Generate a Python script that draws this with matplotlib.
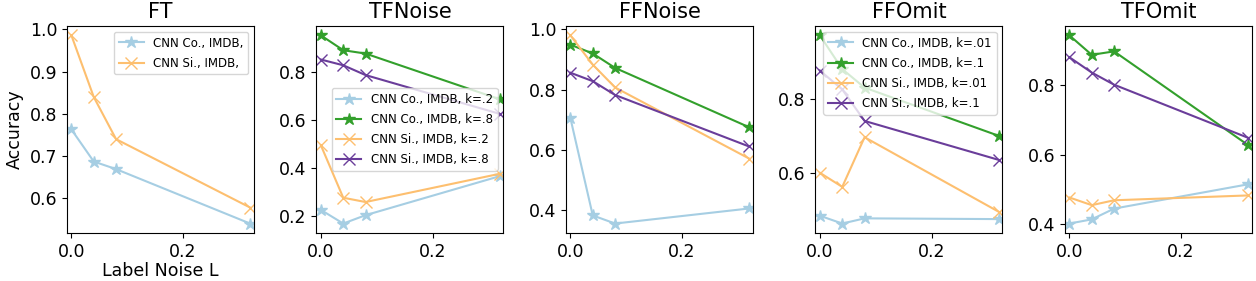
import numpy as np
import matplotlib
matplotlib.use("Agg")
import matplotlib.pyplot as plt

# label noise levels (x axis)
noise = [0.0, 0.04, 0.08, 0.32]

titles = ["FT", "TFNoise", "FFNoise", "FFOmit", "TFOmit"]

# FT
ft_co = [0.763, 0.687, 0.669, 0.540]
ft_si = [0.986, 0.840, 0.740, 0.578]

# TFNoise
tfn_co_lo = [0.225, 0.168, 0.203, 0.366]
tfn_co_hi = [0.955, 0.893, 0.879, 0.688]
tfn_si_lo = [0.495, 0.276, 0.258, 0.376]
tfn_si_hi = [0.854, 0.830, 0.789, 0.627]

# FFNoise
ffn_co_lo = [0.705, 0.382, 0.355, 0.405]
ffn_co_hi = [0.949, 0.920, 0.872, 0.675]
ffn_si_lo = [0.980, 0.883, 0.807, 0.571]
ffn_si_hi = [0.856, 0.828, 0.782, 0.611]

# FFOmit
ffo_co_lo = [0.484, 0.463, 0.477, 0.475]
ffo_co_hi = [0.971, 0.880, 0.830, 0.700]
ffo_si_lo = [0.600, 0.562, 0.696, 0.495]
ffo_si_hi = [0.876, 0.825, 0.740, 0.635]

# TFOmit
tfo_co_lo = [0.402, 0.414, 0.445, 0.515]
tfo_co_hi = [0.944, 0.888, 0.898, 0.628]
tfo_si_lo = [0.477, 0.455, 0.469, 0.483]
tfo_si_hi = [0.881, 0.837, 0.802, 0.649]

c_blue = '#a6cee3'
c_green = '#33a02c'
c_orange = '#fdbf6f'
c_purple = '#6a3d9a'

fig, axs = plt.subplots(1, 5, figsize=(12.56, 2.81), dpi=100)
plt.subplots_adjust(left=0.0533, right=0.9968, top=0.9075, bottom=0.171, wspace=0.334)

lw = 1.5
ms = 9
fs = 12.5
leg_kw = dict(fontsize=8.5, handlelength=2.1, labelspacing=0.6)

def draw(ax, series):
    for y, color, marker, label in series:
        ax.plot(noise, y, color=color, marker=marker, markersize=ms, linewidth=lw, label=label)

draw(axs[0], [(ft_co, c_blue, '*', 'CNN Co., IMDB,'),
              (ft_si, c_orange, 'x', 'CNN Si., IMDB,')])
draw(axs[1], [(tfn_co_lo, c_blue, '*', 'CNN Co., IMDB, k=.2'),
              (tfn_co_hi, c_green, '*', 'CNN Co., IMDB, k=.8'),
              (tfn_si_lo, c_orange, 'x', 'CNN Si., IMDB, k=.2'),
              (tfn_si_hi, c_purple, 'x', 'CNN Si., IMDB, k=.8')])
draw(axs[2], [(ffn_co_lo, c_blue, '*', None),
              (ffn_co_hi, c_green, '*', None),
              (ffn_si_lo, c_orange, 'x', None),
              (ffn_si_hi, c_purple, 'x', None)])
draw(axs[3], [(ffo_co_lo, c_blue, '*', 'CNN Co., IMDB, k=.01'),
              (ffo_co_hi, c_green, '*', 'CNN Co., IMDB, k=.1'),
              (ffo_si_lo, c_orange, 'x', 'CNN Si., IMDB, k=.01'),
              (ffo_si_hi, c_purple, 'x', 'CNN Si., IMDB, k=.1')])
draw(axs[4], [(tfo_co_lo, c_blue, '*', None),
              (tfo_co_hi, c_green, '*', None),
              (tfo_si_lo, c_orange, 'x', None),
              (tfo_si_hi, c_purple, 'x', None)])

axs[0].legend(loc='upper right', **leg_kw)
axs[1].legend(loc='center right', **leg_kw)
axs[3].legend(loc='upper right', **leg_kw)

for ax, t in zip(axs, titles):
    ax.set_title(t, fontsize=15)
    ax.set_xlim(-0.008, 0.327)
    ax.set_xticks([0.0, 0.2])
    ax.tick_params(labelsize=fs)

axs[0].set_ylabel('Accuracy', fontsize=fs)
axs[0].set_xlabel('Label Noise L', fontsize=fs, labelpad=1)

fig.savefig('out.png', dpi=100)
